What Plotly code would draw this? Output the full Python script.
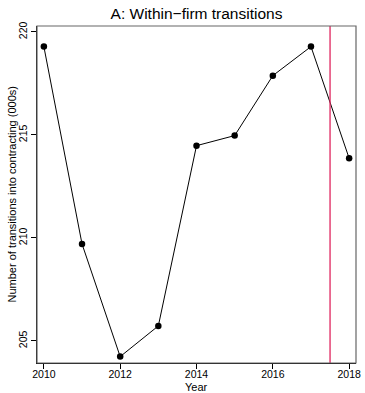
import plotly.graph_objects as go

years = [2010, 2011, 2012, 2013, 2014, 2015, 2016, 2017, 2018]
transitions = [219.29, 209.71, 204.24, 205.73, 214.48, 214.97, 217.88, 219.29, 213.87]
policy_year = 2017.5
x_ticks = [2010, 2012, 2014, 2016, 2018]
y_ticks = [205, 210, 215, 220]

FONT = "Liberation Sans, Arial, Helvetica, sans-serif"
L, R, T, B = 37, 9, 26, 30
W, H = 365, 393
PW, PH = W - L - R, H - T - B

fig = go.Figure()
fig.add_trace(go.Scatter(
    x=years, y=transitions, mode="lines+markers",
    line=dict(color="black", width=1),
    marker=dict(color="black", size=6.5),
    showlegend=False,
))
fig.add_shape(type="line", xref="x", yref="paper", x0=policy_year, x1=policy_year,
              y0=0, y1=1, line=dict(color="#e0245e", width=1.3))
fig.add_shape(type="rect", xref="paper", yref="paper", x0=0, x1=1, y0=0, y1=1,
              line=dict(color="#666666", width=1.2), layer="above")

fig.add_annotation(text="Year", xref="paper", yref="paper", x=0.5,
                   y=-(387 - (H - B)) / PH, xanchor="center", yanchor="middle",
                   showarrow=False, font=dict(size=11, family=FONT))
fig.add_annotation(text="Number of transitions into contracting (000s)", xref="paper",
                   yref="paper", x=-(L - 11) / PW, y=0.5, xanchor="center",
                   yanchor="middle", textangle=-90, showarrow=False,
                   font=dict(size=11, family=FONT))

fig.update_layout(
    width=W, height=H,
    margin=dict(l=L, r=R, t=T, b=B),
    paper_bgcolor="white", plot_bgcolor="white",
    font=dict(family=FONT, color="black", size=11),
    title=dict(text="A: Within\u2212firm transitions", x=(L + W - R) / 2 / W, xanchor="center",
               y=1 - 19 / H, yanchor="bottom", font=dict(size=15.5, family=FONT)),
    xaxis=dict(range=[2009.82, 2018.18], tickvals=x_ticks, ticks="outside", ticklen=5,
               tickcolor="black", showgrid=False, zeroline=False, showline=True,
               linecolor="black", linewidth=1.2, automargin=False, ticklabelstandoff=-4,
               tickfont=dict(size=10.5)),
    yaxis=dict(range=[203.93, 220.29], tickvals=y_ticks, ticks="outside", ticklen=5,
               tickcolor="black", showgrid=False, zeroline=False, showline=True,
               linecolor="black", linewidth=1.2, tickangle=-90,
               automargin=False, tickfont=dict(size=10.5)),
)
fig.write_html("out.html")
